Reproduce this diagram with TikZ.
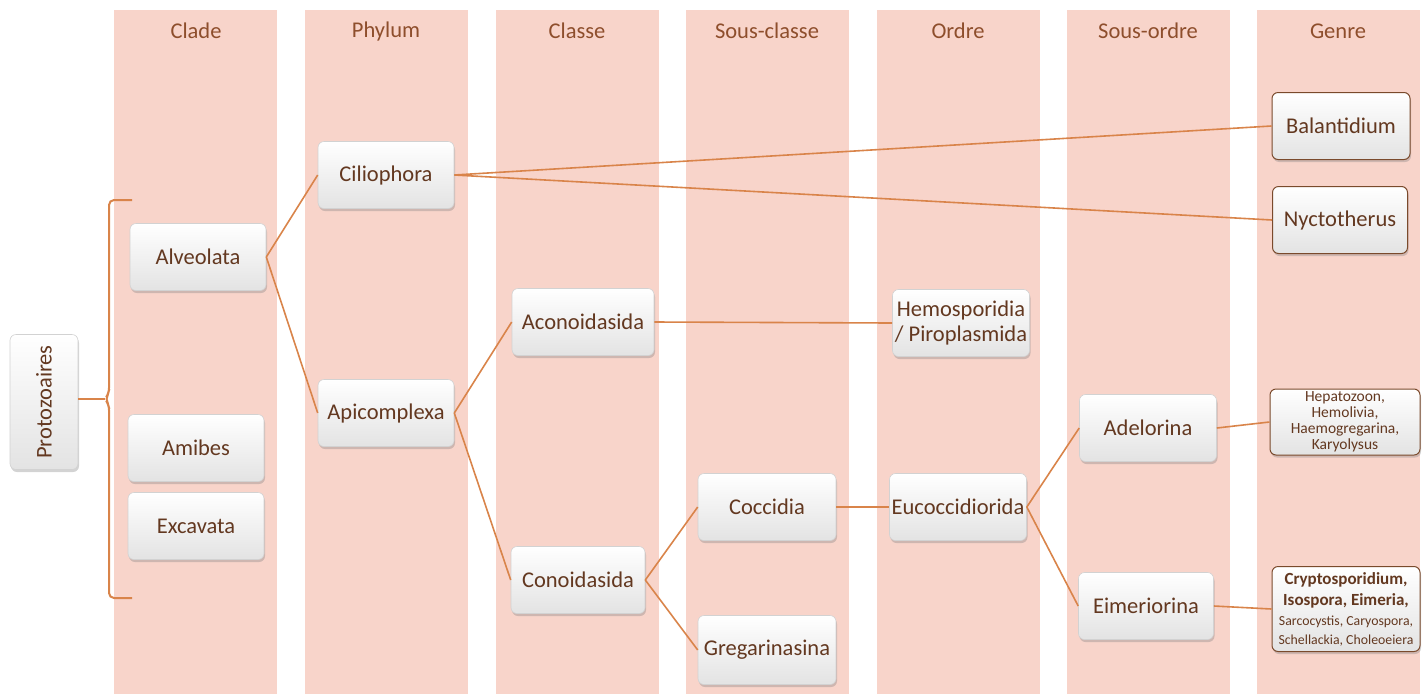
\documentclass[tikz,border=0pt]{standalone}
\usepackage{fontspec}
\setmainfont{Carlito}
\usetikzlibrary{shadows}
\definecolor{bandc}{HTML}{F8D4CA}
\definecolor{connc}{HTML}{D9844A}
\definecolor{headc}{HTML}{8E4E2C}
\definecolor{nodetext}{HTML}{633820}
\definecolor{gborder}{HTML}{7A4A2C}
\newcommand{\gbold}[1]{{\fontsize{17}{19}\selectfont\bfseries #1}}
\newcommand{\gsmall}[1]{{\fontsize{13.8}{15}\selectfont #1}}
\begin{document}
\begin{tikzpicture}[x=1pt,y=-1pt,
  band/.style={fill=bandc, draw=none},
  head/.style={text=headc, font=\fontsize{22.5}{26}\selectfont},
  box/.style={draw=gray!35, line width=0.6pt, rounded corners=6pt,
    top color=white, bottom color=gray!22,
    drop shadow={opacity=0.35, shadow xshift=1pt, shadow yshift=-2.5pt},
    text=nodetext, font=\fontsize{22.5}{25}\selectfont, align=center,
    minimum height=67pt, minimum width=136pt, inner sep=2pt},
  gbox/.style={box, draw=gborder, line width=1pt},
  small/.style={font=\fontsize{15.5}{16}\selectfont},
  conn/.style={draw=connc, line width=1.6pt},
  bracec/.style={draw=connc, line width=2pt}]
\useasboundingbox (0,0) rectangle (1426,694);
% bands
\foreach \x in {114,305,496,686,877,1067,1257}
  \fill[band] (\x,10) rectangle ++(163,684);
% headers
\node[head] (h1) at (196,31) {Clade};
\node[head] (h2) at (386,31) {Phylum};
\node[head] (h3) at (577,31) {Classe};
\node[head] (h4) at (767,31) {Sous-classe};
\node[head] (h5) at (958,31) {Ordre};
\node[head] (h6) at (1148,31) {Sous-ordre};
\node[head] (h7) at (1338,31) {Genre};
% nodes
\node[box, minimum width=68pt, minimum height=135pt] (proto) at (44,402) {\rotatebox{90}{Protozoaires}};
\node[box] (alv) at (198,257) {Alveolata};
\node[box] (ami) at (196,448) {Amibes};
\node[box] (exc) at (196,526) {Excavata};
\node[box] (cil) at (386,175) {Ciliophora};
\node[box] (api) at (386,413) {Apicomplexa};
\node[box, minimum width=142pt] (acon) at (583,322) {Aconoidasida};
\node[box, minimum width=134pt] (con) at (578,580) {Conoidasida};
\node[box, minimum width=138pt] (coc) at (767,507) {Coccidia};
\node[box, minimum width=138pt, minimum height=69pt] (gre) at (767,650) {Gregarinasina};
\node[box, minimum width=137pt] (hem) at (961,323) {Hemosporidia\\/ Piroplasmida};
\node[box, minimum width=137pt] (euc) at (958,507) {Eucoccidiorida};
\node[box, minimum width=137pt] (ade) at (1148,428) {Adelorina};
\node[box, minimum width=135pt] (eim) at (1146,606) {Eimeriorina};
\node[gbox, minimum width=138pt] (bal) at (1341,126) {Balantidium};
\node[gbox, minimum width=135pt] (nyc) at (1340,220) {Nyctotherus};
\node[gbox, small, minimum width=150pt, minimum height=66pt, inner sep=1pt] (hep) at (1345,422)
  {Hepatozoon,\\Hemolivia,\\Haemogregarina,\\Karyolysus};
\node[gbox, minimum width=148pt, minimum height=68pt, inner sep=0pt] (cry) at (1346,609)
  {\begin{tabular}{@{}c@{}}
   \gbold{Cryptosporidium,}\\[-4pt]
   \gbold{Isospora, Eimeria,}\\[-5pt]
   \gsmall{Sarcocystis, Caryospora,}\\[-6pt]
   \gsmall{Schellackia, Choleoeiera}
   \end{tabular}};
% brace
\coordinate (btop) at (132,200);
\coordinate (bbot) at (132,598);
\coordinate (btip) at (105,399);
\draw[bracec, rounded corners=5pt] (btop) -- (109,200) -- (109,393) -- (btip) -- (109,405) -- (109,598) -- (bbot);
\draw[conn, line width=2pt] (proto.east |- btip) -- (btip);
% connectors
\draw[conn] (alv.east) -- (cil.west);
\draw[conn] (alv.east) -- (api.west);
\draw[conn] (cil.east) -- (bal.west);
\draw[conn] (cil.east) -- (nyc.west);
\draw[conn] (api.east) -- (acon.west);
\draw[conn] (api.east) -- (con.west);
\draw[conn] (acon.east) -- (hem.west);
\draw[conn] (con.east) -- (coc.west);
\draw[conn] (con.east) -- (gre.west);
\draw[conn] (coc.east) -- (euc.west);
\draw[conn] (euc.east) -- (ade.west);
\draw[conn] (euc.east) -- (eim.west);
\draw[conn] (ade.east) -- (hep.west);
\draw[conn] (eim.east) -- (cry.west);
\end{tikzpicture}
\end{document}
